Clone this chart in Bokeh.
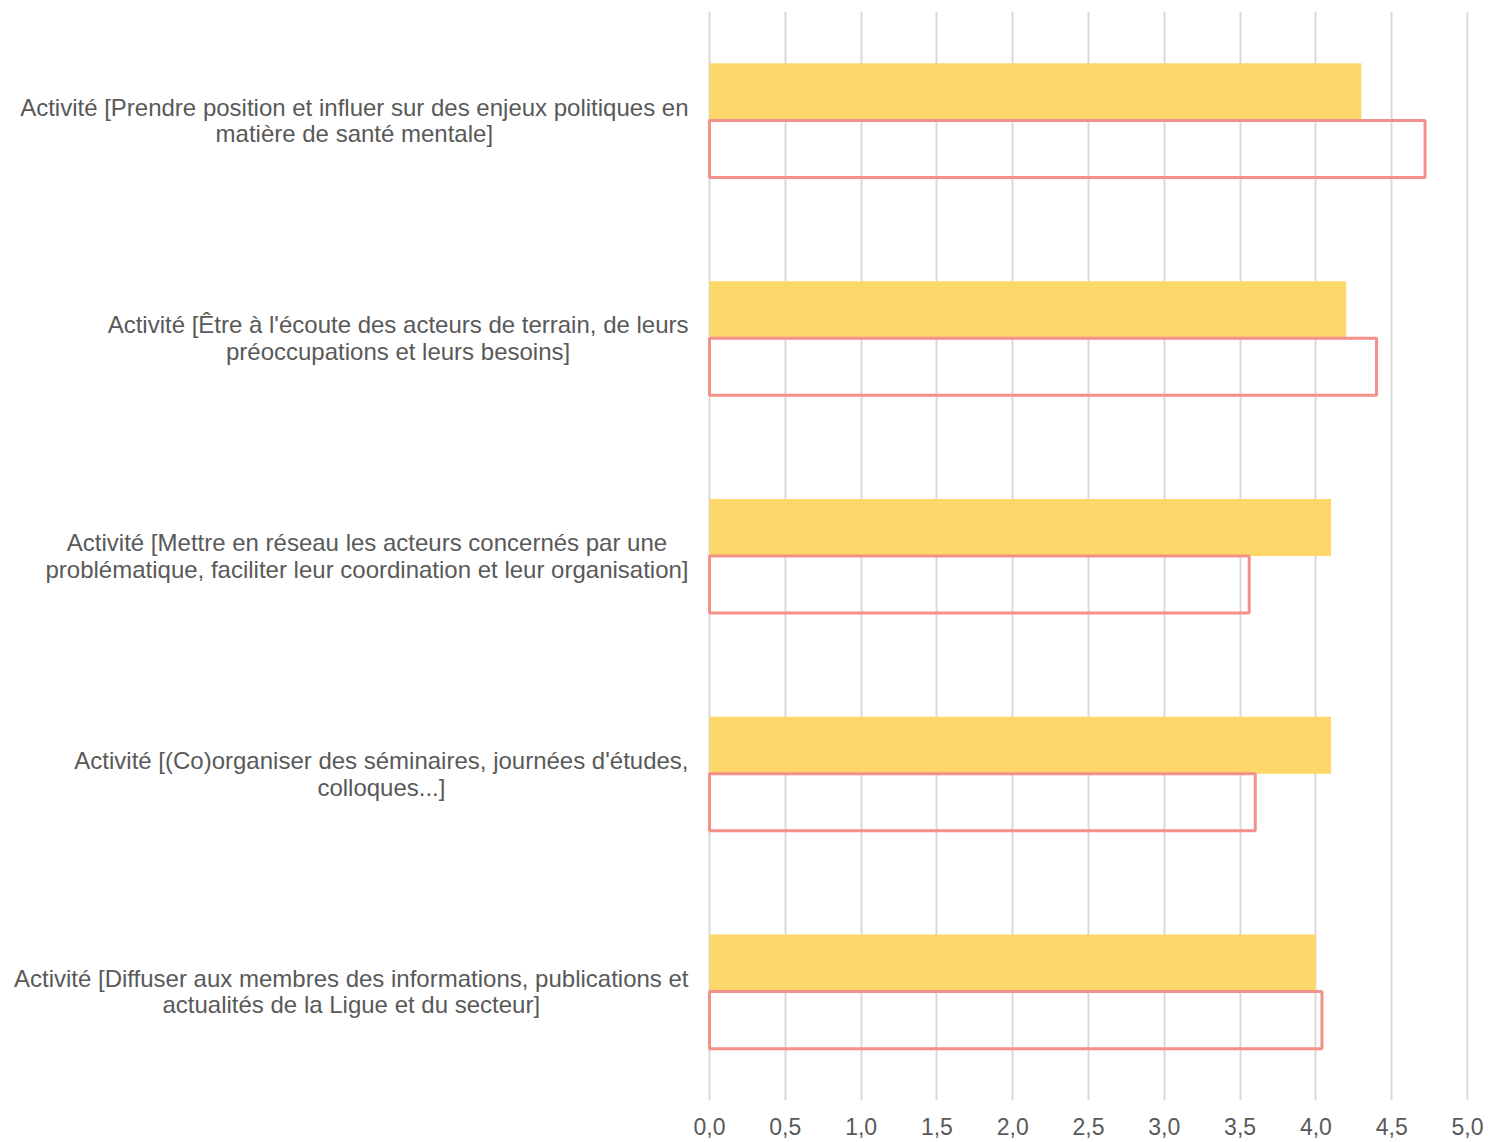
from bokeh.plotting import figure
from bokeh.models import FixedTicker, CustomJSTickFormatter, Range1d, Label
from bokeh.embed import file_html
from bokeh.resources import INLINE

categories = [
    "Activité [Prendre position et influer sur des enjeux politiques en\nmatière de santé mentale]",
    "Activité [Être à l'écoute des acteurs de terrain, de leurs\npréoccupations et leurs besoins]",
    "Activité [Mettre en réseau les acteurs concernés par une\nproblématique, faciliter leur coordination et leur organisation]",
    "Activité [(Co)organiser des séminaires, journées d'études,\ncolloques...]",
    "Activité [Diffuser aux membres des informations, publications et\nactualités de la Ligue et du secteur]",
]
series_yellow = [4.30, 4.20, 4.10, 4.10, 4.00]
series_red = [4.72, 4.40, 3.56, 3.60, 4.04]
x_ticks = [0, 0.5, 1, 1.5, 2, 2.5, 3, 3.5, 4, 4.5, 5]

FONT = "Liberation Sans"
GREY = "#595959"

n = len(categories)
ypos = [n - i for i in range(n)]  # first category at the top

# frame spans the whole width; the left part (negative x) holds the category labels
p = figure(
    width=1486, height=1140,
    y_range=Range1d(0.5, n + 0.5),
    x_range=Range1d(-4.677, 5.0066),
    output_backend="svg", toolbar_location=None,
    min_border_left=0, min_border_right=18,
    min_border_top=11, min_border_bottom=40,
    outline_line_color=None,
)

src = {
    "y_top": [y + 0.131 for y in ypos],
    "y_bot": [y - 0.131 for y in ypos],
    "yellow": series_yellow,
    "red": series_red,
}
bar_h = 0.262
p.hbar(y="y_top", left=0, right="yellow", height=bar_h,
       source=src, fill_color="#FED76A", line_color=None)
p.hbar(y="y_bot", left=0, right="red", height=bar_h,
       source=src, fill_color=None, line_color="#F3908A", line_width=3)

p.xaxis.ticker = FixedTicker(ticks=x_ticks)
p.xaxis.formatter = CustomJSTickFormatter(code="return tick.toFixed(1).replace('.', ',');")
p.xaxis.axis_line_color = None
p.xaxis.major_tick_line_color = None
p.xaxis.minor_tick_line_color = None
p.xaxis.major_label_text_font = FONT
p.xaxis.major_label_text_font_size = "23px"
p.xaxis.major_label_text_color = GREY
p.xaxis.major_label_standoff = 11

p.yaxis.visible = False

for cat, y in zip(categories, ypos):
    p.add_layout(Label(
        x=0, y=y, x_offset=-21, text=cat,
        anchor="center_right", text_align="center", text_baseline="middle",
        text_font=FONT, text_font_size="24px", text_color=GREY,
        text_line_height=0.98,
    ))

p.ygrid.grid_line_color = None
p.xgrid.ticker = FixedTicker(ticks=x_ticks)
p.xgrid.bounds = (0, 5)
p.xgrid.grid_line_color = "#D9D9D9"
p.xgrid.grid_line_width = 2

open("out.html", "w").write(file_html(p, INLINE))
